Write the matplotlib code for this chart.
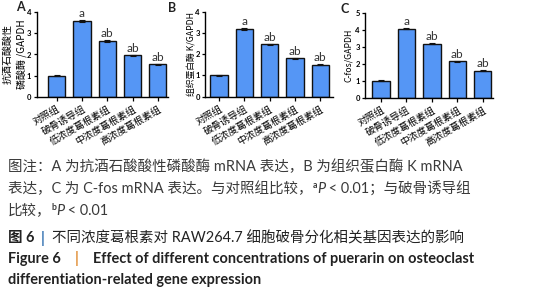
import matplotlib
matplotlib.use("Agg")
import matplotlib.pyplot as plt
import numpy as np

# ---------------- data ----------------
groups = ["对照组", "破骨诱导组", "低浓度葛根素组", "中浓度葛根素组", "高浓度葛根素组"]
vals_a = [1.0, 3.60, 2.63, 1.96, 1.54]
vals_b = [1.0, 3.20, 2.46, 1.80, 1.50]
vals_c = [1.0, 4.07, 3.18, 2.13, 1.59]
err_a = [0.03, 0.04, 0.05, 0.03, 0.03]
err_b = [0.04, 0.04, 0.04, 0.03, 0.03]
err_c = [0.03, 0.04, 0.05, 0.04, 0.03]
sig = ["", "a", "ab", "ab", "ab"]
ylabels = ["抗酒石酸酸性\n磷酸酶 /GAPDH", "组织蛋白酶 K/GAPDH", "C-fos/GAPDH"]
yticks_a = [0, 1, 2, 3, 4]
yticks_b = [0, 1, 2, 3, 4]
yticks_c = [0, 1, 2, 3, 4, 5]
panel_letters = ["A", "B", "C"]

CJK = ["Noto Sans CJK SC", "DejaVu Sans"]
LAT = ["Lato", "Noto Sans CJK SC", "DejaVu Sans"]
plt.rcParams['font.family'] = CJK

W, H = 534, 300
fig = plt.figure(figsize=(W / 100, H / 100), dpi=100)
bar_color = "#5596F5"
text_col = "#3a3a3a"


def px_axes(left, top, right, bottom):
    return fig.add_axes([left / W, 1 - bottom / H, (right - left) / W, (bottom - top) / H])


# (axes, values, errors, yticks, xlim, ylabel size, ylabel x (axes frac), linespacing)
panels = [
    (px_axes(36.5, 12.3, 168, 96.7), vals_a, err_a, yticks_a, (-0.8, 4.4), 7.2, -0.072, 1.4),
    (px_axes(205, 11.7, 333, 96.7), vals_b, err_b, yticks_b, (-0.55, 4.5), 6.3, -0.075, 1.0),
    (px_axes(365, 12.7, 493, 97.7), vals_c, err_c, yticks_c, (-0.63, 4.4), 6.3, -0.09, 1.0),
]
letter_pos = [(20, 7), (172, 7.5), (345, 9)]

x = np.arange(len(groups))
for i, (ax, vals, errs, yt, xl, yls, ylx, lsp) in enumerate(panels):
    ax.bar(x, vals, width=0.68, color=bar_color, edgecolor="#111111", linewidth=1.0, zorder=2)
    ax.errorbar(x, vals, yerr=errs, fmt="none", ecolor="#111111", elinewidth=0.8,
                capsize=2.5, capthick=0.8, zorder=3)
    for xi, v, e, s in zip(x, vals, errs, sig):
        if s:
            ax.text(xi, v + e + 0.04 * yt[-1] / 4, s, ha="center", va="bottom",
                    fontsize=8.5, color="#333333", family=LAT)
    ax.set_xlim(*xl)
    ax.set_ylim(0, yt[-1])
    ax.set_yticks(yt)
    ax.set_yticklabels([str(t) for t in yt], fontsize=5.5, fontweight="bold", family=LAT)
    ax.set_xticks(x)
    ax.set_xticklabels(groups, rotation=30, ha="right", rotation_mode="anchor",
                       fontsize=7, family=CJK)
    for sp in ["top", "right"]:
        ax.spines[sp].set_visible(False)
    for sp in ["left", "bottom"]:
        ax.spines[sp].set_linewidth(1.0)
    ax.tick_params(axis="y", length=2.5, width=0.9, pad=1.2)
    ax.tick_params(axis="x", length=3, width=0.9, pad=2)
    ax.set_ylabel(ylabels[i], fontsize=yls, linespacing=lsp)
    ax.yaxis.set_label_coords(ylx, 0.5)
    lx, ly = letter_pos[i]
    fig.text(lx / W, 1 - ly / H, panel_letters[i], fontsize=9, fontweight="bold",
             family=LAT, ha="center", va="center", color="#222222")

renderer = fig.canvas.get_renderer()


def rich_line(x0, yc, pieces, size):
    xp = x0
    for txt, kw in pieces:
        fs = size * kw.get("scale", 1.0)
        dy = kw.get("dy", 0)
        t = fig.text(xp / W, 1 - (yc - dy) / H, txt, fontsize=fs,
                     fontweight=kw.get("weight", "normal"),
                     fontstyle=kw.get("style", "normal"),
                     color=kw.get("color", text_col), family=LAT,
                     ha="left", va="center")
        bb = t.get_window_extent(renderer)
        xp += bb.width + kw.get("gap", 0)


fs = 10.45
rich_line(8, 167, [("图注：A 为抗酒石酸酸性磷酸酶 mRNA 表达，B 为组织蛋白酶 K mRNA", {})], fs)
rich_line(8, 189, [("表达，C 为 C-fos mRNA 表达。与对照组比较，", {}),
                   ("a", {"scale": 0.6, "dy": 4, "weight": "bold"}),
                   ("P", {"style": "italic"}),
                   (" < 0.01；与破骨诱导组", {})], fs)
rich_line(8, 211, [("比较，", {}),
                   ("b", {"scale": 0.6, "dy": 4, "weight": "bold"}),
                   ("P", {"style": "italic"}),
                   (" < 0.01", {})], fs)
rich_line(8, 238, [("图 6", {"weight": "bold", "color": "#222222"}),
                   ("  |  ", {"weight": "bold", "color": "#2f6fb0"}),
                   ("不同浓度葛根素对 RAW264.7 细胞破骨分化相关基因表达的影响", {"color": "#222222"})], fs)
rich_line(8, 259, [("Figure 6", {"weight": "bold", "color": "#222222"}),
                   ("    |    ", {"weight": "bold", "color": "#e08a2e"}),
                   ("Effect of different concentrations of puerarin on osteoclast",
                    {"weight": "bold", "color": "#222222"})], fs)
rich_line(8, 280, [("differentiation-related gene expression", {"weight": "bold", "color": "#222222"})], fs)

fig.savefig("out.png", dpi=100)
